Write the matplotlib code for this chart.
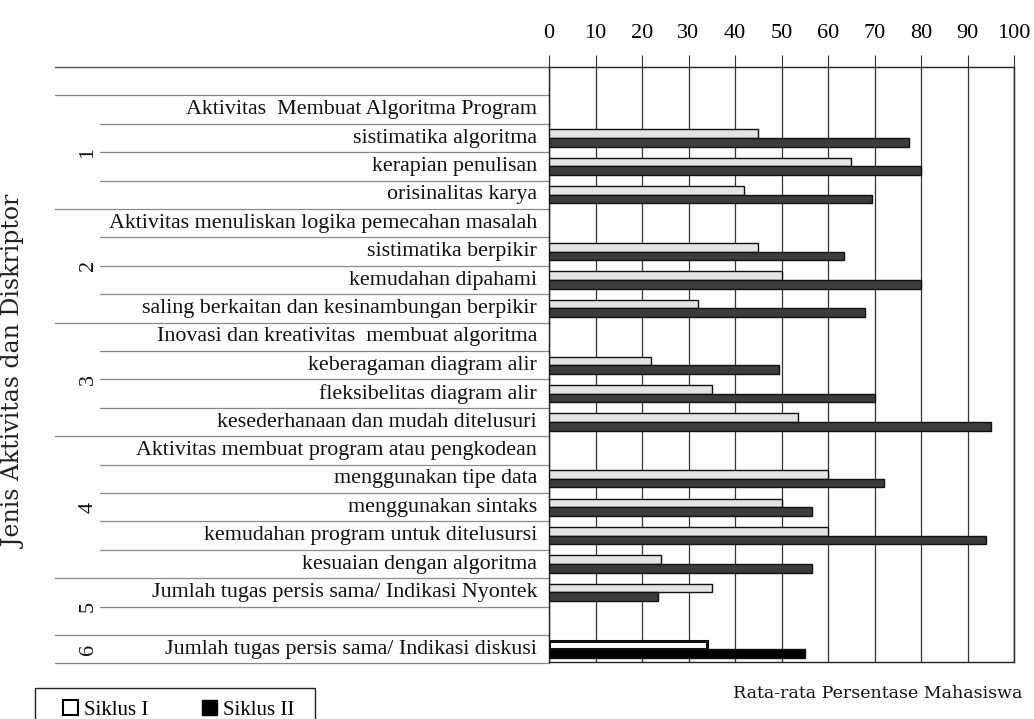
import numpy as np
import matplotlib
matplotlib.use("Agg")
import matplotlib.pyplot as plt
from matplotlib.patches import Patch, Rectangle

plt.rcParams["font.family"] = ["Liberation Serif", "DejaVu Serif"]

# Descriptor rows (top to bottom); header rows and the spacer row carry no bars
labels = [
    "Aktivitas  Membuat Algoritma Program",
    "sistimatika algoritma",
    "kerapian penulisan",
    "orisinalitas karya",
    "Aktivitas menuliskan logika pemecahan masalah",
    "sistimatika berpikir",
    "kemudahan dipahami",
    "saling berkaitan dan kesinambungan berpikir",
    "Inovasi dan kreativitas  membuat algoritma",
    "keberagaman diagram alir",
    "fleksibelitas diagram alir",
    "kesederhanaan dan mudah ditelusuri",
    "Aktivitas membuat program atau pengkodean",
    "menggunakan tipe data",
    "menggunakan sintaks",
    "kemudahan program untuk ditelusursi",
    "kesuaian dengan algoritma",
    "Jumlah tugas persis sama/ Indikasi Nyontek",
    "",
    "Jumlah tugas persis sama/ Indikasi diskusi",
]
nan = np.nan
siklus_1 = [nan, 45, 65, 42, nan, 45, 50, 32, nan, 22, 35, 53.5,
            nan, 60, 50, 60, 24, 35, nan, 34]
siklus_2 = [nan, 77.5, 80, 69.5, nan, 63.5, 80, 68, nan, 49.5, 70, 95,
            nan, 72, 56.5, 94, 56.5, 23.5, nan, 55]
group_names = ["1", "2", "3", "4", "5", "6"]
group_sizes = [4, 4, 4, 5, 2, 1]
x_ticks = [0, 10, 20, 30, 40, 50, 60, 70, 80, 90, 100]

W, H = 1034, 719
fig = plt.figure(figsize=(W / 100, H / 100), dpi=100)
fig.patch.set_facecolor("white")

def fx(px):
    return px / W

def fy(py):
    return 1 - py / H

ax = fig.add_axes([fx(549), fy(662), fx(1014) - fx(549), fy(67) - fy(662)])

y = np.arange(len(labels))
s1 = np.array(siklus_1, dtype=float)
s2 = np.array(siklus_2, dtype=float)
last = len(labels) - 1
bh = 0.3

fill1 = ["white" if i == last else "#e4e4e4" for i in y]
fill2 = ["black" if i == last else "#3c3c3c" for i in y]
lw = [2.2 if i == last else 1.0 for i in y]

ok1 = ~np.isnan(s1)
ok2 = ~np.isnan(s2)
ax.barh(y[ok1] - bh / 2, s1[ok1], height=bh,
        color=np.array(fill1)[ok1], edgecolor="#111111",
        linewidth=np.array(lw)[ok1], zorder=3)
ax.barh(y[ok2] + bh / 2, s2[ok2], height=bh,
        color=np.array(fill2)[ok2], edgecolor="#111111",
        linewidth=1.0, zorder=3)

ax.set_xlim(0, 100)
ax.set_ylim(len(labels) - 0.55, -1.5)
ax.xaxis.tick_top()
ax.set_xticks(x_ticks)
ax.set_xticklabels([str(t) for t in x_ticks], fontsize=16)
ax.tick_params(axis="x", length=9, width=0.8, color="#333333", pad=8)
ax.set_yticks([])
ax.grid(axis="x", color="#333333", linewidth=0.9, zorder=0)
for side in ax.spines:
    ax.spines[side].set_color("#222222")
    ax.spines[side].set_linewidth(1.0)

# Descriptor labels, right-aligned next to the axis
trans = ax.get_yaxis_transform()
x_lab = -12 / (1014 - 549)
for yi, lab in zip(y, labels):
    ax.text(x_lab, yi, lab, transform=trans, ha="right", va="center",
            fontsize=15.8, color="#111111")

# Row rules in the label column
x_left_row = -(549 - 100) / (1014 - 549)
x_left_grp = -(549 - 55) / (1014 - 549)
bounds = np.cumsum([0] + group_sizes) - 0.5
for b in np.arange(-0.5, len(labels), 1.0):
    start = x_left_grp if b in bounds else x_left_row
    ax.plot([start, 0], [b, b], transform=trans, color="#8a8a8a",
            linewidth=0.9, clip_on=False, zorder=1)
ax.plot([x_left_grp, 0], [-1.5, -1.5], transform=trans, color="#555555",
        linewidth=1.0, clip_on=False)

# Group numbers
x_grp = -(549 - 88) / (1014 - 549)
for name, lo, hi in zip(group_names, bounds[:-1], bounds[1:]):
    ax.text(x_grp, (lo + hi) / 2, name, transform=trans, rotation=90,
            ha="center", va="center", fontsize=16, color="#111111")

fig.text(fx(15), fy(372), "Jenis Aktivitas dan Diskriptor", rotation=90,
         ha="center", va="center", fontsize=17, color="#222222",
         family="DejaVu Serif")
fig.text(fx(878), fy(694), "Rata-rata Persentase Mahasiswa",
         ha="center", va="center", fontsize=12.5, color="#111111",
         family="DejaVu Serif")

# Legend: boxed, running off the bottom edge
fig.patches.append(Rectangle((fx(35), fy(740)), fx(315) - fx(35),
                             fy(688) - fy(740), transform=fig.transFigure,
                             facecolor="white", edgecolor="#222222",
                             linewidth=1.0))
handles = [Patch(facecolor="white", edgecolor="black", linewidth=1.5),
           Patch(facecolor="black", edgecolor="black")]
fig.legend(handles, ["Siklus I", "Siklus II"], loc="center left",
           bbox_to_anchor=(fx(63), fy(710)), ncol=2, fontsize=15,
           frameon=False, handlelength=0.7, handleheight=0.7,
           handletextpad=0.3, columnspacing=2.6, borderpad=0,
           borderaxespad=0)

fig.savefig("out.png", dpi=100, facecolor="white")
